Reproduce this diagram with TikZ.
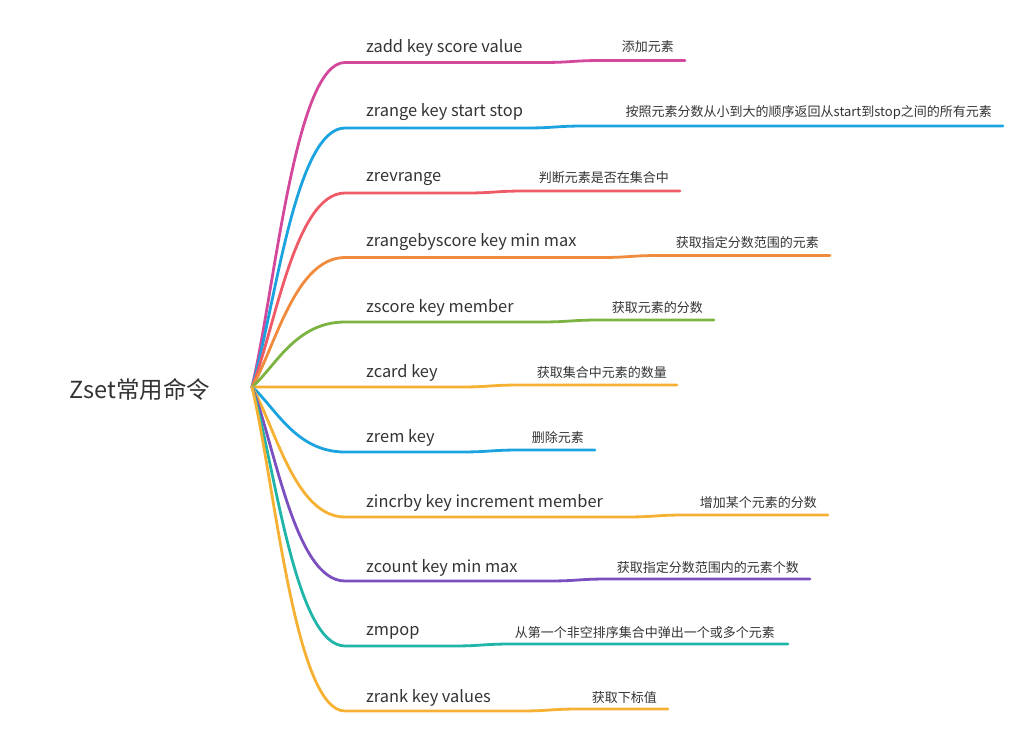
\documentclass[tikz,border=0pt]{standalone}
\usepackage{fontspec}
\setmainfont{Noto Sans CJK SC}
\definecolor{txt}{HTML}{333333}
\definecolor{cPink}{HTML}{D4489B}
\definecolor{cBlue}{HTML}{1BA3E0}
\definecolor{cRed}{HTML}{EE5A68}
\definecolor{cOrange}{HTML}{F08A3C}
\definecolor{cGreen}{HTML}{7CB342}
\definecolor{cYellow}{HTML}{F6B133}
\definecolor{cPurple}{HTML}{7B4FC0}
\definecolor{cTeal}{HTML}{1FB5A8}
\begin{document}
\begin{tikzpicture}[x=1pt,y=-1pt,
  cmd/.style={anchor=west, inner sep=0pt, text=txt, font=\fontsize{16.4}{20}\selectfont},
  note/.style={anchor=east, inner sep=0pt, text=txt, font=\fontsize{13}{15}\selectfont},
  br/.style={line width=2.8pt, line cap=round}]
\useasboundingbox (0,0) rectangle (1031,745);
\node[inner sep=0pt, text=txt, font=\fontsize{23.5}{27}\selectfont] (root) at (140,389) {Zset常用命令};
\coordinate (hub) at (252,387);

% commands
\node[cmd] (zadd) at (366,47.5) {zadd key score value};
\node[cmd] (zrange) at (366,112.5) {zrange key start stop};
\node[cmd] (zrevrange) at (366,178.5) {zrevrange};
\node[cmd] (zrangebyscore) at (366,242.5) {zrangebyscore key min max};
\node[cmd] (zscore) at (366,307.5) {zscore key member};
\node[cmd] (zcard) at (366,372.5) {zcard key};
\node[cmd] (zrem) at (366,437.5) {zrem key};
\node[cmd] (zincrby) at (366,502.5) {zincrby key increment member};
\node[cmd] (zcount) at (366,567.5) {zcount key min max};
\node[cmd] (zmpop) at (366,632.5) {zmpop};
\node[cmd] (zrank) at (366,697.5) {zrank key values};

% notes
\node[note] (n1) at (674,47) {添加元素};
\node[note] (n2) at (992,112) {按照元素分数从小到大的顺序返回从start到stop之间的所有元素};
\node[note] (n3) at (669,178) {判断元素是否在集合中};
\node[note] (n4) at (819,243) {获取指定分数范围的元素};
\node[note] (n5) at (703,308) {获取元素的分数};
\node[note] (n6) at (667,373) {获取集合中元素的数量};
\node[note] (n7) at (584,438) {删除元素};
\node[note] (n8) at (817,503) {增加某个元素的分数};
\node[note] (n9) at (799,568) {获取指定分数范围内的元素个数};
\node[note] (n10) at (775,633) {从第一个非空排序集合中弹出一个或多个元素};
\node[note] (n11) at (657,698) {获取下标值};

\coordinate (e1) at (685,60.5);
\coordinate (e2) at (1003,126);
\coordinate (e3) at (680,191);
\coordinate (e4) at (830,255.5);
\coordinate (e5) at (714,320);
\coordinate (e6) at (677,385);
\coordinate (e7) at (595,450);
\coordinate (e8) at (828,515);
\coordinate (e9) at (810,579);
\coordinate (e10) at (788,644);
\coordinate (e11) at (668,709);

% branches
\draw[br, cPink] (hub) .. controls +(23,-97.5) and +(-50,0) .. (345,62.5) -- (542,62.5) .. controls +(30,0) and +(-30,0) .. (602,60.5) -- (e1);
\draw[br, cBlue] (hub) .. controls +(23,-77.7) and +(-50,0) .. (345,128) -- (525,128) .. controls +(30,0) and +(-30,0) .. (585,126) -- (e2);
\draw[br, cRed] (hub) .. controls +(23,-58.2) and +(-50,0) .. (345,193) -- (465,193) .. controls +(30,0) and +(-30,0) .. (525,191) -- (e3);
\draw[br, cOrange] (hub) .. controls +(23,-39) and +(-50,0) .. (345,257.5) -- (600,257.5) .. controls +(30,0) and +(-30,0) .. (660,255.5) -- (e4);
\draw[br, cGreen] (hub) .. controls +(23,-19.5) and +(-50,0) .. (345,322) -- (540,322) .. controls +(30,0) and +(-30,0) .. (600,320) -- (e5);
\draw[br, cYellow] (hub) -- (460,387) .. controls +(30,0) and +(-30,0) .. (520,385) -- (e6);
\draw[br, cBlue] (hub) .. controls +(23,19.5) and +(-50,0) .. (345,452) -- (460,452) .. controls +(30,0) and +(-30,0) .. (520,450) -- (e7);
\draw[br, cYellow] (hub) .. controls +(23,39) and +(-50,0) .. (345,517) -- (625,517) .. controls +(30,0) and +(-30,0) .. (685,515) -- (e8);
\draw[br, cPurple] (hub) .. controls +(23,58.2) and +(-50,0) .. (345,581) -- (548,581) .. controls +(30,0) and +(-30,0) .. (608,579) -- (e9);
\draw[br, cTeal] (hub) .. controls +(23,77.7) and +(-50,0) .. (345,646) -- (452,646) .. controls +(30,0) and +(-30,0) .. (512,644) -- (e10);
\draw[br, cYellow] (hub) .. controls +(23,97.2) and +(-50,0) .. (345,711) -- (520,711) .. controls +(30,0) and +(-30,0) .. (580,709) -- (e11);
\end{tikzpicture}
\end{document}
